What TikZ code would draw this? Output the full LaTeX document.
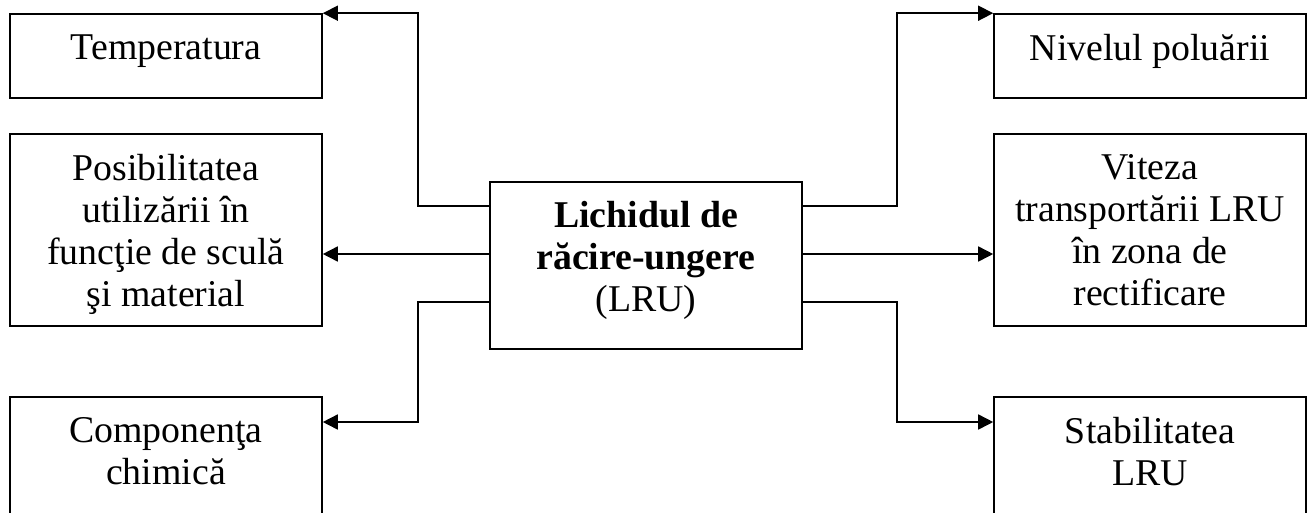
\documentclass[tikz,border=0pt]{standalone}
\usepackage{fontspec}
\setmainfont{Liberation Serif}
\usetikzlibrary{arrows.meta, positioning}

\begin{document}
\begin{tikzpicture}[x=1pt, y=-1pt,
    box/.style={draw, line width=1.6pt, minimum width=312pt, inner sep=0pt},
    txt/.style={align=center, inner sep=0pt, font=\fontsize{37.8}{42}\selectfont},
    link/.style={line width=1.6pt},
    arr/.style={link, -{Triangle[length=15pt, width=15pt]}}]
    \useasboundingbox (0,0) rectangle (1308,512);
    \clip (0,0) rectangle (1308,512);

    % central box
    \node (lru) [box, minimum height=167pt] at (646,265.5) {};
    \node (lru-t) [txt, below=20pt of lru.north] {\textbf{Lichidul de}\\\textbf{răcire-ungere}\\(LRU)};

    % left column
    \node (temp) [box, minimum height=84pt] at (166,56) {};
    \node (temp-t) [txt, below=21pt of temp.north] {Temperatura};
    \node (posib) [box, minimum height=192pt] at (166,230) {};
    \node (posib-t) [txt, below=21pt of posib.north] {Posibilitatea\\utilizării în\\funcţie de sculă\\şi material};
    \node (comp) [box, minimum height=126pt] at (166,460) {};
    \node (comp-t) [txt, below=21pt of comp.north] {Componenţa\\chimică};

    % right column
    \node (nivel) [box, minimum height=84pt] at (1150,56) {};
    \node (nivel-t) [txt, below=21pt of nivel.north] {Nivelul poluării};
    \node (viteza) [box, minimum height=192pt] at (1150,230) {};
    \node (viteza-t) [txt, below=21pt of viteza.north] {Viteza\\transportării LRU\\în zona de\\rectificare};
    \node (stab) [box, minimum height=126pt] at (1150,460) {};
    \node (stab-t) [txt, below=21pt of stab.north] {Stabilitatea\\LRU};

    \coordinate (lbus) at (418,0);
    \coordinate (rbus) at (897,0);

    \draw[arr] (lru.west |- 0,206) -| (lbus |- temp.north) -- (temp.north east);
    \draw[arr] (lru.west |- 0,254) -- (posib.east |- 0,254);
    \draw[arr] (lru.west |- 0,302) -| (lbus |- 0,422) -- (comp.east |- 0,422);

    \draw[arr] (lru.east |- 0,206) -| (rbus |- nivel.north) -- (nivel.north west);
    \draw[arr] (lru.east |- 0,254) -- (viteza.west |- 0,254);
    \draw[arr] (lru.east |- 0,302) -| (rbus |- 0,422) -- (stab.west |- 0,422);
\end{tikzpicture}
\end{document}
